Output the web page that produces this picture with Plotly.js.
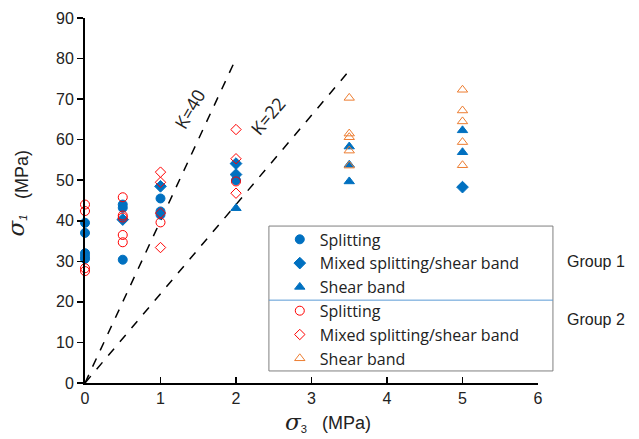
<!DOCTYPE html>
<html>
<head>
<meta charset="utf-8">
<script src="https://cdn.plot.ly/plotly-3.0.1.min.js"></script>
<style>html,body{margin:0;padding:0;background:#fff}#chart{width:639px;height:439px}</style>
</head>
<body>
<div id="chart"></div>
<script>
// Group 1
var g1SplitX = [0, 0, 0, 0, 0, 0.5, 0.5, 0.5, 1, 1, 1, 2];
var g1SplitY = [39.5, 37.0, 32.0, 31.2, 30.6, 44.0, 43.2, 30.4, 45.5, 42.3, 41.5, 50.0];
var g1MixX = [0.5, 1, 2, 2, 5];
var g1MixY = [40.3, 48.5, 54.1, 51.4, 48.3];
var g1ShearX = [2, 3.5, 3.5, 3.5, 5, 5];
var g1ShearY = [43.1, 58.3, 53.8, 49.7, 62.3, 56.9];
// Group 2
var g2SplitX = [0, 0, 0, 0, 0.5, 0.5, 0.5, 0.5, 0.5, 1, 2];
var g2SplitY = [44.0, 42.4, 28.3, 27.6, 45.8, 41.3, 40.8, 36.5, 34.7, 39.6, 49.7];
var g2MixX = [1, 1, 1, 1, 2, 2, 2];
var g2MixY = [52.0, 49.5, 41.9, 33.4, 62.5, 55.3, 46.8];
var g2ShearX = [3.5, 3.5, 3.5, 3.5, 3.5, 5, 5, 5, 5, 5];
var g2ShearY = [70.3, 61.5, 60.6, 57.3, 53.6, 72.3, 67.2, 64.5, 59.4, 53.7];
// K lines
var k40X = [0, 2];
var k40Y = [0, 80];
var k22X = [0, 3.5];
var k22Y = [0, 77];
var legendNames = ["Splitting", "Mixed splitting/shear band", "Shear band"];
var xTicks = [0, 1, 2, 3, 4, 5, 6];
var yTicks = [0, 10, 20, 30, 40, 50, 60, 70, 80, 90];

var BLUE = "#0070C0", RED = "#FF0000", ORANGE = "#ED7D31";
var FONT = "Liberation Sans, Arial, sans-serif";
var LFONT = "Open Sans, Liberation Sans, sans-serif";

function pts(x, y, name, sym, color, grp, size) {
  return {
    x: x, y: y, name: name, type: "scatter", mode: "markers",
    legendgroup: grp,
    marker: {symbol: sym, color: color, size: size, line: {width: 1, color: color}},
    cliponaxis: false
  };
}

var traces = [
  {x: k40X, y: k40Y, type: "scatter", mode: "lines", showlegend: false,
   line: {color: "#000", width: 1.5, dash: "dash"}},
  {x: k22X, y: k22Y, type: "scatter", mode: "lines", showlegend: false,
   line: {color: "#000", width: 1.5, dash: "dash"}},
  pts(g1SplitX, g1SplitY, legendNames[0], "circle", BLUE, "a", 9),
  pts(g1MixX, g1MixY, legendNames[1], "diamond", BLUE, "b", 9),
  pts(g1ShearX, g1ShearY, legendNames[2], "triangle-up", BLUE, "c", 9),
  pts(g2SplitX, g2SplitY, legendNames[0], "circle-open", RED, "d", 9),
  pts(g2MixX, g2MixY, legendNames[1], "diamond-open", RED, "e", 8),
  pts(g2ShearX, g2ShearY, legendNames[2], "triangle-up-open", ORANGE, "f", 9)
];

var SIG = "<span style='font-family:DejaVu Serif, Liberation Serif, serif;font-style:italic;font-size:23px'>σ</span>";
var TF = {family: FONT, size: 16, color: "#222"};
var MF = {family: FONT, size: 18, color: "#222"};

var layout = {
  width: 639, height: 439,
  margin: {l: 85, r: 101, t: 18, b: 56},
  paper_bgcolor: "#fff", plot_bgcolor: "#fff",
  font: {family: FONT, size: 16, color: "#222"},
  showlegend: true,
  xaxis: {
    range: [0, 6], tickvals: xTicks, ticks: "inside", ticklen: 6, tickwidth: 1.5, tickcolor: "#000",
    showline: true, linecolor: "#000", linewidth: 2, showgrid: false, zeroline: false,
    tickfont: {family: FONT, size: 16, color: "#222"}
  },
  yaxis: {
    range: [0, 90], tickvals: yTicks, ticks: "outside", ticklen: 6, tickwidth: 1.5, tickcolor: "#000",
    showline: true, linecolor: "#000", linewidth: 2, showgrid: false, zeroline: false,
    tickfont: {family: FONT, size: 16, color: "#222"}
  },
  legend: {
    x: 0.430, y: 0.440, xanchor: "left", yanchor: "top",
    bgcolor: "rgba(0,0,0,0)", borderwidth: 0,
    traceorder: "grouped", tracegroupgap: 0,
    font: {family: LFONT, size: 16, color: "#222"}
  },
  shapes: [
    {type: "rect", xref: "paper", yref: "paper", x0: 0.406, x1: 1.033, y0: 0.033, y1: 0.430,
     line: {color: "#7f7f7f", width: 1}, fillcolor: "#fff", layer: "above"},
    {type: "line", xref: "paper", yref: "paper", x0: 0.406, x1: 1.033, y0: 0.227, y1: 0.227,
     line: {color: "#5B9BD5", width: 1}, layer: "above"}
  ],
  annotations: [
    {text: SIG + "<sub>3</sub>", x: 0.437, y: -0.108, xref: "paper", yref: "paper",
     xanchor: "left", yanchor: "middle", showarrow: false, font: TF},
    {text: "(MPa)", x: 0.519, y: -0.110, xref: "paper", yref: "paper",
     xanchor: "left", yanchor: "middle", showarrow: false, font: MF},
    {text: SIG + "<sub><i>1</i></sub>", x: -0.152, y: 0.432, xref: "paper", yref: "paper",
     xanchor: "center", yanchor: "middle", textangle: -90, showarrow: false, font: TF},
    {text: "(MPa)", x: -0.139, y: 0.570, xref: "paper", yref: "paper",
     xanchor: "center", yanchor: "middle", textangle: -90, showarrow: false, font: MF},
    {text: "K=40", x: 1.386, y: 67.5, xref: "x", yref: "y", showarrow: false, textangle: -60,
     font: {family: LFONT, size: 18, color: "#222"}},
    {text: "K=22", x: 2.42, y: 65.8, xref: "x", yref: "y", showarrow: false, textangle: -50,
     font: {family: LFONT, size: 18, color: "#222"}},
    {text: "Group 1", x: 1.060, y: 0.304, xref: "paper", yref: "paper", xanchor: "left", showarrow: false,
     font: {family: FONT, size: 16, color: "#222"}},
    {text: "Group 2", x: 1.060, y: 0.145, xref: "paper", yref: "paper", xanchor: "left", showarrow: false,
     font: {family: FONT, size: 16, color: "#222"}}
  ]
};

Plotly.newPlot("chart", traces, layout, {displayModeBar: false, staticPlot: true});
</script>
</body>
</html>
